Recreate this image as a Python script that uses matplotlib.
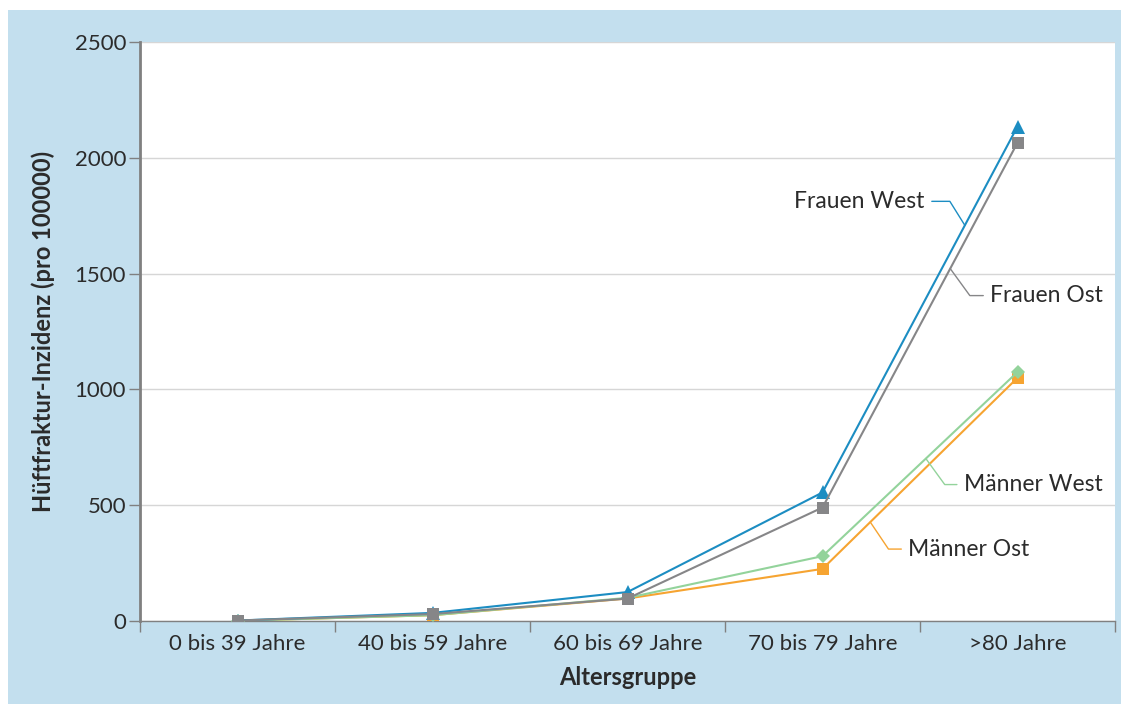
import matplotlib
matplotlib.use("Agg")
import matplotlib.pyplot as plt
from matplotlib.patches import Rectangle

plt.rcParams['font.family'] = ['Lato', 'DejaVu Sans']

# Age groups and hip fracture incidence per 100000
categories = ["0 bis 39 Jahre", "40 bis 59 Jahre", "60 bis 69 Jahre",
              "70 bis 79 Jahre", ">80 Jahre"]
frauen_west = [2, 35, 125, 555, 2135]
frauen_ost = [2, 30, 97, 490, 2065]
maenner_west = [1, 25, 100, 280, 1075]
maenner_ost = [1, 25, 97, 225, 1050]
y_ticks = [0, 500, 1000, 1500, 2000, 2500]

BG = "#c3dfee"
TXT = "#2b2b2b"
AX = "#808080"

fig = plt.figure(figsize=(11.26, 7.04), dpi=100)
fig.patch.set_facecolor("white")
fig.patches.append(Rectangle((8 / 1126, 0), 1113 / 1126, 694 / 704,
                             transform=fig.transFigure, facecolor=BG,
                             edgecolor="none", zorder=-10))

ax = fig.add_axes([140 / 1126, 1 - 621 / 704, 975 / 1126, 579 / 704])
ax.set_facecolor("white")

x = list(range(len(categories)))

series = [
    ("Männer Ost", maenner_ost, "#f6a431", "s", 9),
    ("Männer West", maenner_west, "#93d39b", "D", 7.5),
    ("Frauen West", frauen_west, "#1c8dc2", "^", 10),
    ("Frauen Ost", frauen_ost, "#868688", "s", 9),
]
lines = {}
for name, vals, col, mk, ms in series:
    ax.plot(x, vals, color=col, lw=1.5, marker=mk, markersize=ms,
            markeredgewidth=0, zorder=3)
    lines[name] = (vals, col)

ax.set_xlim(-0.5, 4.5)
ax.set_ylim(0, 2500)
ax.set_yticks(y_ticks)
ax.set_xticks(x)
ax.set_xticklabels(categories)
ax.set_xticks([i - 0.5 for i in range(len(categories) + 1)], minor=True)
ax.tick_params(axis="x", which="major", length=0, pad=9,
               labelsize=16, labelcolor=TXT)
ax.tick_params(axis="x", which="minor", length=8, width=1, color=AX)
ax.tick_params(axis="y", length=8, width=1, color=AX, pad=2,
               labelsize=16, labelcolor=TXT)
ax.grid(axis="y", color="#d6d6d6", lw=1)
ax.set_axisbelow(True)
for s in ("top", "right"):
    ax.spines[s].set_visible(False)
ax.spines["left"].set_color(AX)
ax.spines["left"].set_linewidth(2)
ax.spines["bottom"].set_color(AX)
ax.spines["bottom"].set_linewidth(1)

ax.set_xlabel("Altersgruppe", fontsize=17, fontweight="bold", color=TXT,
              labelpad=9)
ax.set_ylabel("Hüftfraktur-Inzidenz (pro 100000)", fontsize=17,
              fontweight="bold", color=TXT, labelpad=14)

# Series labels with leader lines onto the last segment
labels = [
    ("Frauen West", 0.73, (-40, 24), "right", 122),
    ("Frauen Ost", 0.655, (40, -27), "left", 126),
    ("Männer West", 0.53, (38, -26), "left", 126),
    ("Männer Ost", 0.245, (38, -27), "left", 124),
]
for name, t, off, ha, angb in labels:
    vals, col = lines[name]
    px = 3 + t
    py = vals[3] + t * (vals[4] - vals[3])
    relx = 1 if ha == "right" else 0
    ax.annotate(name, xy=(px, py), xytext=off, textcoords="offset pixels",
                ha=ha, va="center", fontsize=16.5, color=TXT,
                arrowprops=dict(arrowstyle="-", color=col, lw=1,
                                shrinkA=3, shrinkB=0,
                                relpos=(relx, 0.5),
                                connectionstyle=f"angle,angleA=0,angleB={angb},rad=0"))

fig.savefig("out.png", dpi=100)
